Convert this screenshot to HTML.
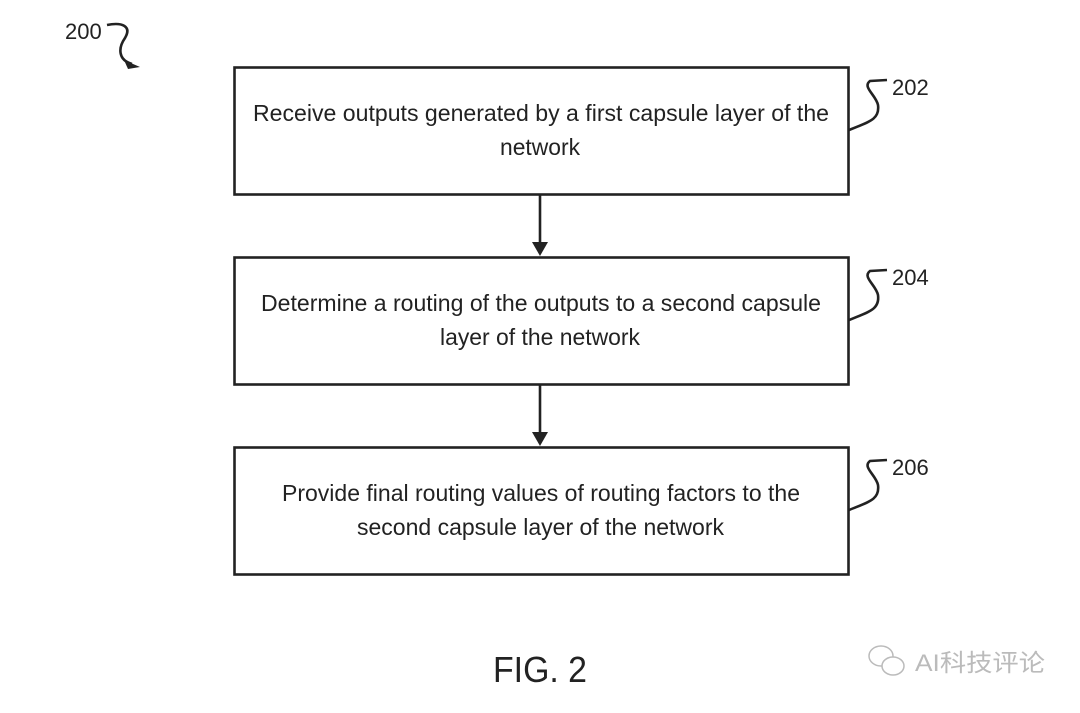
<!DOCTYPE html>
<html><head><meta charset="utf-8"><style>
body{margin:0;background:#fff;width:1080px;height:708px;overflow:hidden}
svg text{font-family:"Liberation Sans",sans-serif;fill:#222}
</style></head><body>
<svg width="1080" height="708" viewBox="0 0 1080 708" xmlns="http://www.w3.org/2000/svg">
<g fill="none" stroke="#222" stroke-width="2.6">
<rect x="234.5" y="67.5" width="614" height="127"/>
<rect x="234.5" y="257.5" width="614" height="127"/>
<rect x="234.5" y="447.5" width="614" height="127"/>
<line x1="540" y1="195" x2="540" y2="248"/>
<line x1="540" y1="385" x2="540" y2="438"/>
<path d="M107 25 C122 22 132 26 125 38 C118 48 118 60 132 64"/>
<path d="M849 130 C868 122 880 120 878 105 C876 95 862 87 870 81 L887 80"/>
<path d="M849 320 C868 312 880 310 878 295 C876 285 862 277 870 271 L887 270"/>
<path d="M849 510 C868 502 880 500 878 485 C876 475 862 467 870 461 L887 460"/>
</g>
<polygon points="532,242 548,242 540,256" fill="#222"/>
<polygon points="532,432 548,432 540,446" fill="#222"/>
<polygon points="124,60 140,67 128,69" fill="#222"/>
<g font-size="23">
<text x="253" y="121" textLength="576" lengthAdjust="spacingAndGlyphs">Receive outputs generated by a first capsule layer of the</text>
<text x="500" y="155" textLength="80" lengthAdjust="spacingAndGlyphs">network</text>
<text x="261" y="311" textLength="560" lengthAdjust="spacingAndGlyphs">Determine a routing of the outputs to a second capsule</text>
<text x="440" y="345" textLength="200" lengthAdjust="spacingAndGlyphs">layer of the network</text>
<text x="282" y="501" textLength="518" lengthAdjust="spacingAndGlyphs">Provide final routing values of routing factors to the</text>
<text x="357" y="535" textLength="367" lengthAdjust="spacingAndGlyphs">second capsule layer of the network</text>
</g>
<g font-size="22">
<text x="65" y="39">200</text>
<text x="892" y="95">202</text>
<text x="892" y="285">204</text>
<text x="892" y="475">206</text>
</g>
<text x="493" y="682" font-size="36" textLength="94" lengthAdjust="spacingAndGlyphs">FIG. 2</text>
<g stroke="#bbb" fill="#fff" stroke-width="1.5">
<ellipse cx="881" cy="656" rx="12" ry="10"/>
<ellipse cx="893" cy="666" rx="11" ry="9"/>
</g>
<text x="915" y="671" font-size="24" textLength="130" lengthAdjust="spacingAndGlyphs" style="fill:#bbb;font-family:'Liberation Sans','Noto Sans CJK SC',sans-serif">AI科技评论</text>
</svg>
</body></html>
